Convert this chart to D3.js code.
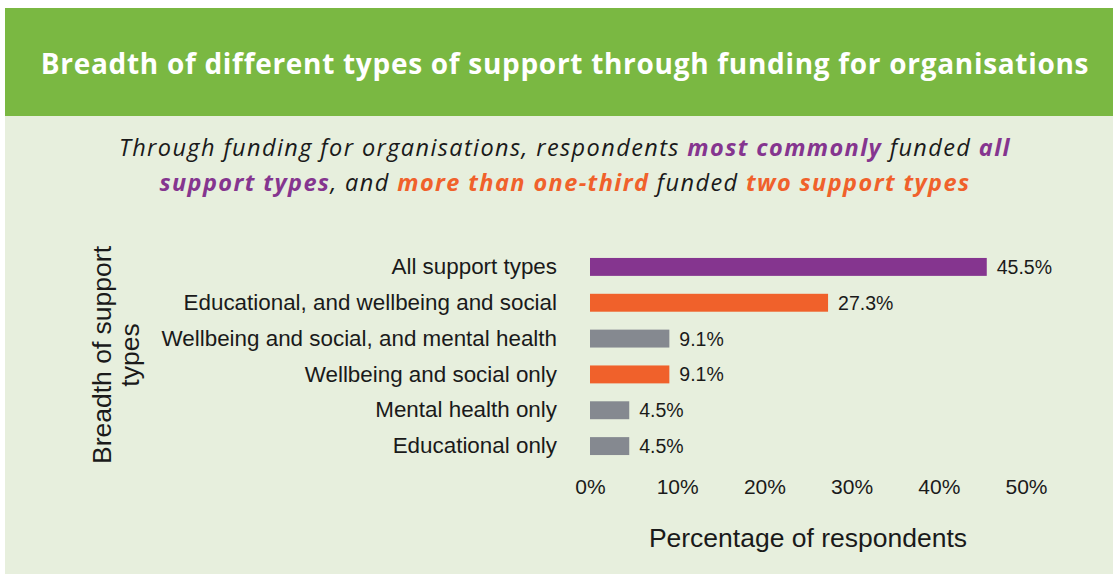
<!DOCTYPE html>
<html>
<head>
<meta charset="utf-8">
<script src="https://cdn.jsdelivr.net/npm/d3@7"></script>
<style>
  html, body { margin: 0; padding: 0; background: #ffffff; }
  svg { display: block; }
</style>
</head>
<body>
<svg id="chart" width="1113" height="574"></svg>
<script>
// Breadth of support types funded through funding for organisations
const categories = [
  "All support types",
  "Educational, and wellbeing and social",
  "Wellbeing and social, and mental health",
  "Wellbeing and social only",
  "Mental health only",
  "Educational only"
];
const values = [45.5, 27.3, 9.1, 9.1, 4.5, 4.5];
const barGroups = ["all", "two", "other", "two", "other", "other"];
const tickValues = [0, 10, 20, 30, 40, 50];

const groupColor = { all: "#85358f", two: "#f0612b", other: "#858990" };

const svg = d3.select("#chart");
const W = 1113, H = 574;

// Panel background and title band
svg.append("rect").attr("x", 5).attr("y", 8).attr("width", W - 5).attr("height", H - 8)
  .attr("fill", "#e7efdd");
svg.append("rect").attr("x", 5).attr("y", 8).attr("width", W - 5).attr("height", 108)
  .attr("fill", "#7ab842");

svg.append("text")
  .attr("x", 565).attr("y", 74)
  .attr("text-anchor", "middle")
  .attr("fill", "#ffffff")
  .style("font-family", "'Open Sans', sans-serif")
  .style("font-weight", 700)
  .style("font-size", "28px")
  .style("letter-spacing", "0.7px")
  .text("Breadth of different types of support through funding for organisations");

// Subtitle with highlighted phrases
const subLines = [
  [["Through funding for organisations, respondents ", null], ["most commonly", "all"], [" funded ", null], ["all", "all"]],
  [["support types", "all"], [", and ", null], ["more than one-third", "two"], [" funded ", null], ["two support types", "two"]]
];
const subY = [156, 191];
subLines.forEach((parts, i) => {
  const t = svg.append("text")
    .attr("x", 565).attr("y", subY[i])
    .attr("text-anchor", "middle")
    .style("font-family", "'Open Sans', sans-serif")
    .style("font-style", "italic")
    .style("font-size", "23.5px")
    .style("letter-spacing", "1.4px");
  parts.forEach(([txt, g]) => {
    t.append("tspan")
      .attr("fill", g ? groupColor[g] : "#1a1a1a")
      .style("font-weight", g ? 700 : 400)
      .text(txt);
  });
});

// Scales
const x = d3.scaleLinear().domain([0, 50]).range([590, 1026]);
const y = d3.scaleBand().domain(categories).range([249, 464]).paddingInner(0.5).paddingOuter(0.25);

const font = "'Liberation Sans', Arial, sans-serif";

// Bars
svg.append("g").selectAll("rect")
  .data(categories)
  .join("rect")
  .attr("x", x(0))
  .attr("y", d => y(d))
  .attr("width", (d, i) => x(values[i]) - x(0))
  .attr("height", y.bandwidth())
  .attr("fill", (d, i) => groupColor[barGroups[i]]);

// Value labels
svg.append("g").selectAll("text")
  .data(categories)
  .join("text")
  .attr("x", (d, i) => x(values[i]) + 10)
  .attr("y", d => y(d) + y.bandwidth() / 2)
  .attr("dy", "0.36em")
  .attr("fill", "#1a1a1a")
  .style("font-family", font)
  .style("font-size", "19.5px")
  .text((d, i) => values[i].toFixed(1) + "%");

// Category axis
const yAxis = svg.append("g")
  .attr("transform", `translate(${x(0) - 33},0)`)
  .call(d3.axisLeft(y).tickSize(0).tickPadding(0));
yAxis.select(".domain").remove();
yAxis.selectAll("text")
  .attr("fill", "#1a1a1a")
  .style("font-family", font)
  .style("font-size", "22.4px");

// Percentage axis
const xAxis = svg.append("g")
  .attr("transform", "translate(0,479)")
  .call(d3.axisBottom(x).tickValues(tickValues).tickFormat(d => d + "%").tickSize(0).tickPadding(0));
xAxis.select(".domain").remove();
xAxis.selectAll("text")
  .attr("fill", "#1a1a1a")
  .style("font-family", font)
  .style("font-size", "21px");

// Axis titles
svg.append("text")
  .attr("x", 808).attr("y", 547)
  .attr("text-anchor", "middle")
  .attr("fill", "#1a1a1a")
  .style("font-family", font)
  .style("font-size", "26.5px")
  .text("Percentage of respondents");

const yTitle = svg.append("text")
  .attr("transform", "translate(0,355) rotate(-90)")
  .attr("text-anchor", "middle")
  .attr("fill", "#1a1a1a")
  .style("font-family", font)
  .style("font-size", "26.5px");
yTitle.append("tspan").attr("x", 0).attr("y", 111).text("Breadth of support");
yTitle.append("tspan").attr("x", 0).attr("y", 139).text("types");
</script>
</body>
</html>
